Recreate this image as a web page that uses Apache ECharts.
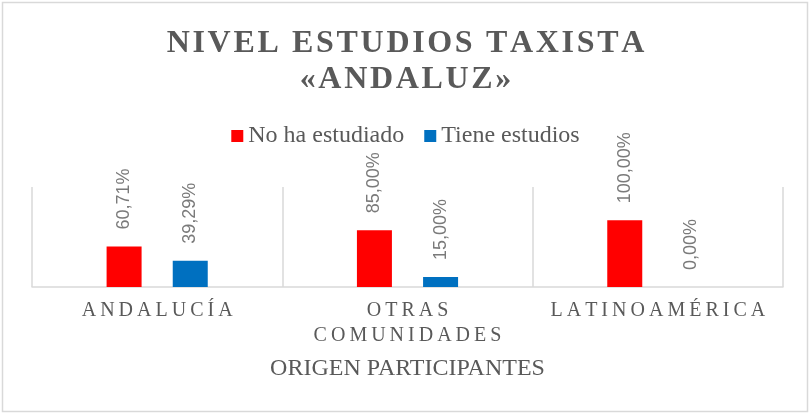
<!DOCTYPE html>
<html>
<head>
<meta charset="utf-8">
<script src="https://cdn.jsdelivr.net/npm/echarts@6/dist/echarts.min.js"></script>
<style>
  html, body { margin: 0; padding: 0; background: #fff; }
  #main { width: 811px; height: 415px; }
</style>
</head>
<body>
<div id="main"></div>
<script>
// datos del gráfico
var categorias = ["ANDALUCÍA", "OTRAS\nCOMUNIDADES", "LATINOAMÉRICA"];
var noHaEstudiado = [0.6071, 0.85, 1.0];
var tieneEstudios = [0.3929, 0.15, 0.0];
var nombresSeries = ["No ha estudiado", "Tiene estudios"];
var titulo = "NIVEL ESTUDIOS TAXISTA\n«ANDALUZ»";
var nombreEje = "ORIGEN PARTICIPANTES";

// separa las letras (espaciado tipo Excel)
function espaciar(txt, sep) {
  return txt.split("\n").map(function (l) {
    return l.split("").join(sep);
  }).join("\n");
}

function porcentaje(v) {
  return (v * 100).toFixed(2).replace(".", ",") + "%";
}

var myChart = echarts.init(document.getElementById("main"));

var etiqueta = {
  show: true,
  position: "top",
  distance: 17,
  rotate: 90,
  align: "left",
  verticalAlign: "middle",
  color: "#7a7a7a",
  fontFamily: "Liberation Sans",
  fontSize: 18,
  formatter: function (p) { return porcentaje(p.value); }
};

var option = {
  animation: false,
  color: ["#ff0000", "#0070c0"],
  title: {
    text: espaciar(titulo, "\u200A"),
    left: "center",
    top: 21,
    textStyle: {
      fontFamily: "Liberation Serif",
      fontWeight: "bold",
      fontSize: 32,
      lineHeight: 36,
      color: "#595959"
    }
  },
  legend: {
    top: 119,
    left: "center",
    icon: "rect",
    itemWidth: 12,
    itemHeight: 12,
    itemGap: 20,
    textStyle: {
      fontFamily: "Liberation Serif",
      fontSize: 24,
      color: "#595959"
    },
    data: nombresSeries
  },
  grid: {
    left: 32,
    right: 28,
    top: 187,
    bottom: 128
  },
  xAxis: {
    type: "category",
    data: categorias,
    axisTick: { show: false },
    axisLine: { lineStyle: { color: "#d9d9d9", width: 1.5 } },
    splitLine: { show: true, interval: 0, lineStyle: { color: "#d9d9d9", width: 1.5 } },
    axisLabel: {
      interval: 0,
      hideOverlap: false,
      margin: 11,
      fontFamily: "Liberation Serif",
      fontSize: 20,
      lineHeight: 25,
      color: "#595959",
      formatter: function (v) { return espaciar(v, "\u2009"); }
    },
    name: nombreEje,
    nameLocation: "middle",
    nameGap: 70,
    nameTextStyle: {
      fontFamily: "Liberation Serif",
      fontSize: 24,
      color: "#595959"
    }
  },
  yAxis: {
    type: "value",
    min: 0,
    max: 1.5,
    show: false,
    splitLine: { show: false }
  },
  series: [
    {
      name: nombresSeries[0],
      type: "bar",
      barWidth: 35,
      barGap: "89%",
      data: noHaEstudiado,
      label: etiqueta
    },
    {
      name: nombresSeries[1],
      type: "bar",
      barWidth: 35,
      barGap: "89%",
      data: tieneEstudios,
      label: etiqueta
    }
  ],
  graphic: [
    {
      type: "rect",
      shape: { x: 2.5, y: 2.5, width: 805, height: 409 },
      style: { fill: "none", stroke: "#d9d9d9", lineWidth: 1.5 },
      silent: true
    }
  ]
};

myChart.setOption(option);

window.addEventListener("resize", function () {
  myChart.resize();
});
</script>
</body>
</html>
